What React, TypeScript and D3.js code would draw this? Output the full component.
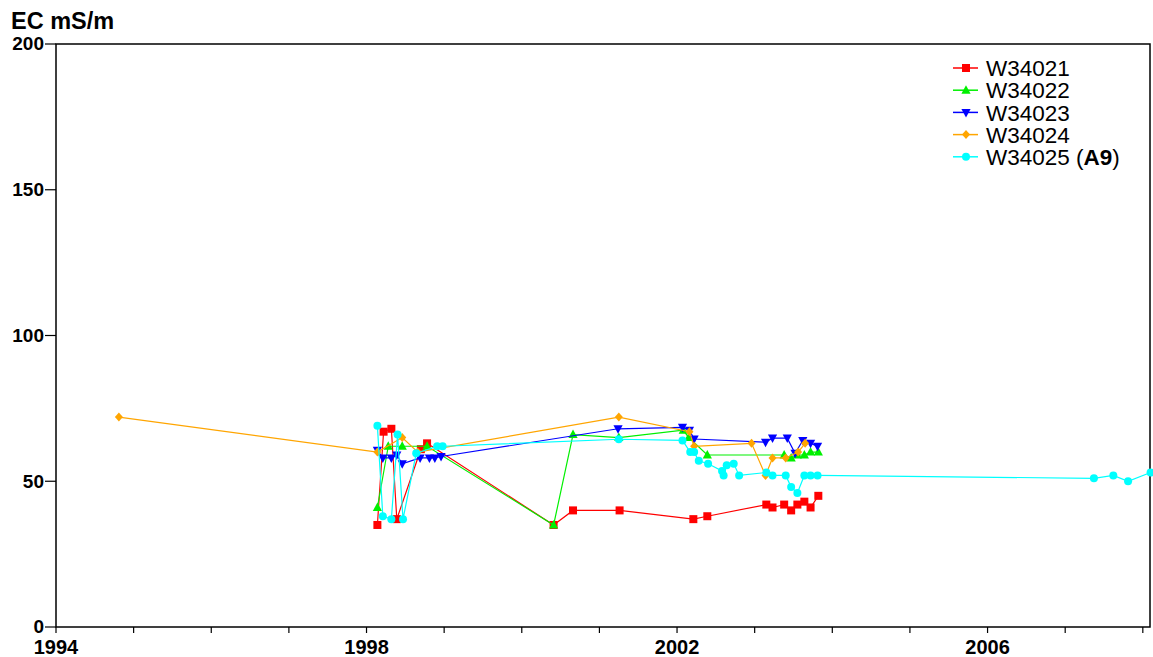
import React from "react";
import * as d3 from "d3";

const seriesNames = ["W34021", "W34022", "W34023", "W34024", "W34025"];
const seriesColors = ["#ff0000", "#00f000", "#0000ff", "#ffa500", "#00ffff"];
const seriesMarkers = ["square", "triangle", "triangleDown", "diamond", "circle"];

const w34021Dates = [1998.14, 1998.22, 1998.32, 1998.39, 1998.70, 1998.78, 2000.41, 2000.66, 2001.26, 2002.21, 2002.39, 2003.15, 2003.23, 2003.38, 2003.47, 2003.55, 2003.64, 2003.72, 2003.82];
const w34021Values = [35, 67, 68, 37, 61, 63, 35, 40, 40, 37, 38, 42, 41, 42, 40, 42, 43, 41, 45];

const w34022Dates = [1998.14, 1998.28, 1998.46, 1998.78, 2000.41, 2000.66, 2001.25, 2002.08, 2002.15, 2002.39, 2003.38, 2003.47, 2003.55, 2003.64, 2003.72, 2003.82];
const w34022Values = [41, 62, 62, 62, 35, 66, 65, 67.5, 65, 59, 59, 58, 59, 59, 60, 60];

const w34023Dates = [1998.14, 1998.21, 1998.32, 1998.39, 1998.46, 1998.69, 1998.81, 1998.88, 1998.96, 2001.24, 2002.07, 2002.16, 2002.22, 2003.14, 2003.23, 2003.42, 2003.52, 2003.62, 2003.72, 2003.81];
const w34023Values = [60.6, 58, 58, 59, 56, 58, 58, 58, 58.5, 68, 68.5, 67.5, 64.5, 63.4, 64.8, 64.8, 59.6, 64, 63, 62];

const w34024Dates = [1994.81, 1998.14, 1998.46, 1998.66, 2001.25, 2002.16, 2002.22, 2002.96, 2003.14, 2003.23, 2003.40, 2003.56, 2003.65];
const w34024Values = [72, 60, 65, 60, 72, 67, 62, 63, 52, 58, 58, 60, 63];

const w34025Dates = [1998.14, 1998.21, 1998.32, 1998.40, 1998.47, 1998.64, 1998.91, 1998.98, 2001.25, 2002.07, 2002.17, 2002.22, 2002.28, 2002.40, 2002.58, 2002.60, 2002.64, 2002.73, 2002.80, 2003.15, 2003.23, 2003.40, 2003.47, 2003.55, 2003.64, 2003.72, 2003.81, 2007.37, 2007.62, 2007.81, 2008.10];
const w34025Values = [69, 38, 37, 66, 37, 59.6, 62, 62, 64.4, 64, 60, 60, 57, 56, 53.5, 52, 55.5, 56, 52, 53, 52, 52, 48, 46, 52, 52, 52, 51, 52, 50, 53];

const seriesDates = [w34021Dates, w34022Dates, w34023Dates, w34024Dates, w34025Dates];
const seriesValues = [w34021Values, w34022Values, w34023Values, w34024Values, w34025Values];

const yTicks = [0, 50, 100, 150, 200];
const xLabelYears = [1994, 1998, 2002, 2006];
const xMinorYears = d3.range(1994, 2009);

const FONT = "'Liberation Sans', Arial, Helvetica, sans-serif";

function Marker({ type, x, y, color }: { type: string; x: number; y: number; color: string }) {
  if (type === "square") return <rect x={x - 4} y={y - 4} width={8} height={8} fill={color} />;
  if (type === "triangle")
    return <path d={`M${x},${y - 5} L${x + 4.6},${y + 3.5} L${x - 4.6},${y + 3.5} Z`} fill={color} />;
  if (type === "triangleDown")
    return <path d={`M${x},${y + 5} L${x + 4.6},${y - 3.5} L${x - 4.6},${y - 3.5} Z`} fill={color} />;
  if (type === "diamond")
    return <path d={`M${x},${y - 4.5} L${x + 4},${y} L${x},${y + 4.5} L${x - 4},${y} Z`} fill={color} />;
  return <circle cx={x} cy={y} r={4} fill={color} />;
}

export default function App() {
  const W = 1153, H = 657;
  const left = 56, right = 1150, top = 44, bottom = 627;
  const x = d3.scaleLinear().domain([1994, 1994 + (right - left) / 77.63]).range([left, right]);
  const y = d3.scaleLinear().domain([0, 200]).range([bottom, top]);
  const line = d3.line<[number, number]>().x((d) => x(d[0])).y((d) => y(d[1]));

  return (
    <svg width={W} height={H} style={{ position: "absolute", left: 0, top: 0, background: "#fff" }} fontFamily={FONT}>
      <rect x={0} y={0} width={W} height={H} fill="#fff" />
      <text x={11} y={29} fontSize={23.5} fontWeight="bold">EC mS/m</text>
      <rect x={left} y={top} width={right - left} height={bottom - top} fill="none" stroke="#000" strokeWidth={1.5} />
      {yTicks.map((t) => (
        <g key={t}>
          <line x1={left - 11} x2={left} y1={y(t)} y2={y(t)} stroke="#000" strokeWidth={1.2} />
          <text x={left - 12} y={y(t)} dy="0.34em" textAnchor="end" fontSize={19} fontWeight="bold">{t}</text>
        </g>
      ))}
      {xMinorYears.map((t) => (
        <line key={t} x1={x(t)} x2={x(t)} y1={bottom} y2={bottom + 6} stroke="#000" strokeWidth={1.2} />
      ))}
      {xLabelYears.map((t) => (
        <text key={t} x={x(t)} y={654} textAnchor="middle" fontSize={20} fontWeight="bold">{t}</text>
      ))}
      {seriesNames.map((name, i) => {
        const pts: [number, number][] = seriesDates[i].map((d, j) => [d, seriesValues[i][j]]);
        return (
          <g key={name}>
            <path d={line(pts) || ""} fill="none" stroke={seriesColors[i]} strokeWidth={1.2} />
            {pts.map((p, j) => (
              <Marker key={j} type={seriesMarkers[i]} x={x(p[0])} y={y(p[1])} color={seriesColors[i]} />
            ))}
          </g>
        );
      })}
      {seriesNames.map((name, i) => {
        const ly = 68 + i * 22.2;
        return (
          <g key={name}>
            <line x1={953} x2={978} y1={ly} y2={ly} stroke={seriesColors[i]} strokeWidth={1.5} />
            <Marker type={seriesMarkers[i]} x={966} y={ly} color={seriesColors[i]} />
            <text x={986} y={ly} dy="0.36em" fontSize={22.5}>
              {name}
              {i === 4 ? (
                <>
                  {" ("}
                  <tspan fontWeight="bold">A9</tspan>
                  {")"}
                </>
              ) : null}
            </text>
          </g>
        );
      })}
    </svg>
  );
}
